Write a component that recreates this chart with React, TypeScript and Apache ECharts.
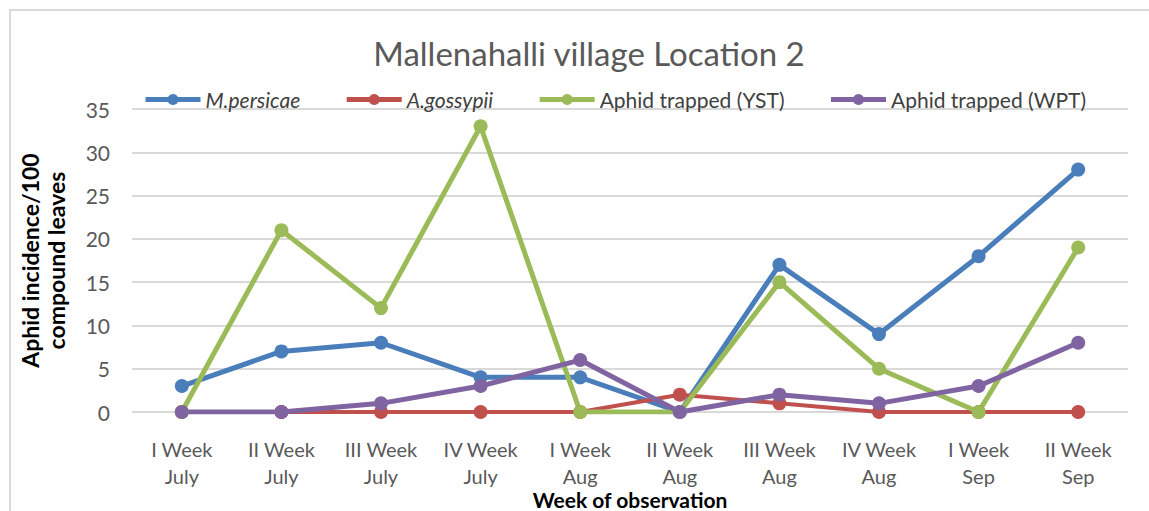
import React, { useEffect, useRef } from "react";
import * as echarts from "echarts";

const categories = [
  "I Week\nJuly", "II Week\nJuly", "III Week\nJuly", "IV Week\nJuly", "I Week\nAug",
  "II Week\nAug", "III Week\nAug", "IV Week\nAug", "I Week\nSep", "II Week\nSep",
];
const mPersicae = [3, 7, 8, 4, 4, 0, 17, 9, 18, 28];
const aGossypii = [0, 0, 0, 0, 0, 2, 1, 0, 0, 0];
const yst = [0, 21, 12, 33, 0, 0, 15, 5, 0, 19];
const wpt = [0, 0, 1, 3, 6, 0, 2, 1, 3, 8];

const FONT = "Lato, 'Open Sans', sans-serif";

export default function App() {
  const ref = useRef<HTMLDivElement>(null);
  useEffect(() => {
    const chart = echarts.init(ref.current!, undefined, { renderer: "svg" });
    const mk = (name: string, data: number[], color: string, width = 5) => ({
      name,
      type: "line",
      data,
      symbol: "circle",
      symbolSize: 14,
      itemStyle: { color },
      lineStyle: { color, width },
    });
    chart.setOption({
      animation: false,
      backgroundColor: "#fff",
      title: {
        text: "Mallenahalli village Location 2",
        left: 584,
        textAlign: "center",
        top: 31,
        textStyle: { fontFamily: FONT, fontSize: 33, fontWeight: "normal", color: "#595959" },
      },
      legend: {
        top: 84,
        left: 138,
        itemWidth: 55,
        itemHeight: 14,
        itemGap: 44,
        lineStyle: { width: 5 },
        textStyle: { fontFamily: FONT, fontSize: 21, color: "#404040" },
        data: [
          { name: "M.persicae", textStyle: { fontStyle: "italic" } },
          { name: "A.gossypii", textStyle: { fontStyle: "italic" } },
          { name: "Aphid trapped (YST)" },
          { name: "Aphid trapped (WPT)" },
        ],
      },
      graphic: [
        {
          type: "rect",
          shape: { x: 10, y: 10, width: 1160, height: 520 },
          style: { fill: "none", stroke: "#d9d9d9", lineWidth: 2 },
        },
      ],
      grid: { left: 132, right: 21, top: 109, bottom: 99, outerBoundsMode: "none" },
      xAxis: {
        type: "category",
        data: categories,
        name: "Week of observation",
        nameLocation: "middle",
        nameGap: 77,
        nameMoveOverlap: false,
        nameTextStyle: { fontFamily: FONT, fontSize: 21, fontWeight: "bold", color: "#000" },
        axisLine: { show: false },
        axisTick: { show: false },
        axisLabel: { fontFamily: FONT, fontSize: 20, color: "#595959", margin: 23, lineHeight: 27 },
      },
      yAxis: {
        type: "value",
        min: 0,
        max: 35,
        interval: 5,
        name: "Aphid incidence/100\ncompound leaves",
        nameLocation: "middle",
        nameGap: 63,
        nameMoveOverlap: false,
        nameTextStyle: { fontFamily: FONT, fontSize: 23, fontWeight: "bold", color: "#000", lineHeight: 26 },
        axisLine: { show: false },
        axisTick: { show: false },
        axisLabel: { fontFamily: FONT, fontSize: 21, color: "#595959", margin: 22 },
        splitLine: { lineStyle: { color: "#d9d9d9", width: 2 } },
      },
      series: [
        mk("M.persicae", mPersicae, "#4A7EBB"),
        mk("A.gossypii", aGossypii, "#C0504D", 4),
        mk("Aphid trapped (YST)", yst, "#9BBB59"),
        mk("Aphid trapped (WPT)", wpt, "#8064A2"),
      ],
    });
    return () => chart.dispose();
  }, []);
  return (
    <div
      ref={ref}
      style={{ position: "absolute", left: 0, top: 0, width: 1149, height: 511 }}
    />
  );
}
